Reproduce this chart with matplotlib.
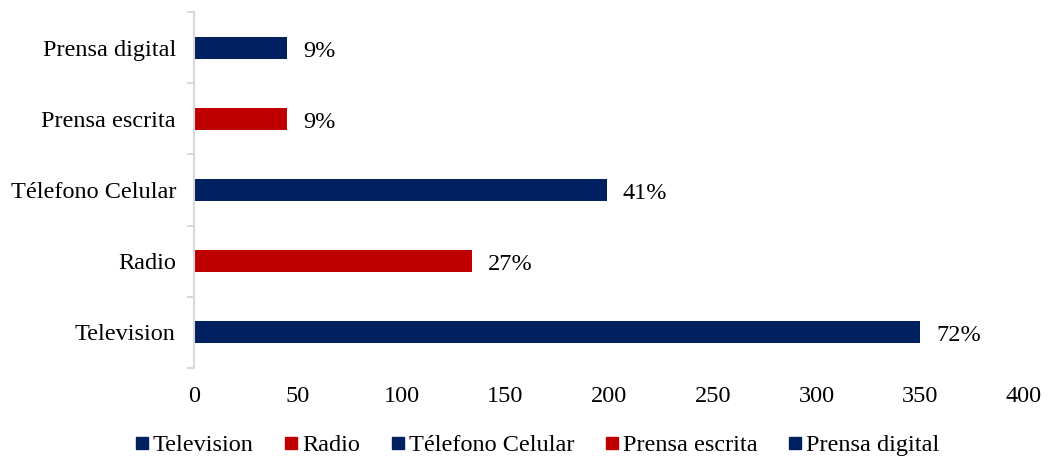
import numpy as np
import matplotlib.pyplot as plt
from matplotlib.lines import Line2D

# data
categories = ['Television', 'Radio', 'Télefono Celular', 'Prensa escrita', 'Prensa digital']
values = [350, 134, 199, 45, 45]
percents = ['72%', '27%', '41%', '9%', '9%']
colors = ['#002060', '#C00000', '#002060', '#C00000', '#002060']

plt.rcParams['font.family'] = ['Liberation Serif', 'DejaVu Serif']
fs = 17.5

fig = plt.figure(figsize=(10.53, 4.61), dpi=100)
ax = fig.add_axes([0.1842, 0.2017, 0.7883, 0.7723])

y = np.arange(len(categories))
ax.barh(y, values, height=0.31, color=colors)
for yi, v, p in zip(y, values, percents):
    ax.annotate(p, (v, yi), xytext=(16, -1), textcoords='offset pixels',
                va='center_baseline', ha='left', fontsize=fs)

ax.set_xlim(0, 400)
ax.set_ylim(-0.5, len(categories) - 0.5)
ax.set_xticks(np.arange(0, 401, 50))
ax.set_yticks(y)
ax.set_yticklabels(categories, fontsize=fs)
ax.tick_params(axis='y', length=0, pad=13)
ax.tick_params(axis='x', length=0, labelsize=fs, pad=13)
# category boundary ticks
ax.set_yticks(np.arange(-0.5, len(categories), 1), minor=True)
ax.tick_params(axis='y', which='minor', length=5, color='#d9d9d9', width=1.5)

for s in ['top', 'right', 'bottom']:
    ax.spines[s].set_visible(False)
ax.spines['left'].set_color('#d9d9d9')
ax.spines['left'].set_linewidth(1.5)

handles = [Line2D([], [], marker='s', linestyle='none', color=c, markersize=8) for c in colors]
fig.legend(handles, categories, loc='center', bbox_to_anchor=(0.508, 0.034), ncol=5,
           frameon=False, fontsize=fs, handletextpad=0.0, columnspacing=1.1, handlelength=0.9)

fig.savefig('out.png', dpi=100)
